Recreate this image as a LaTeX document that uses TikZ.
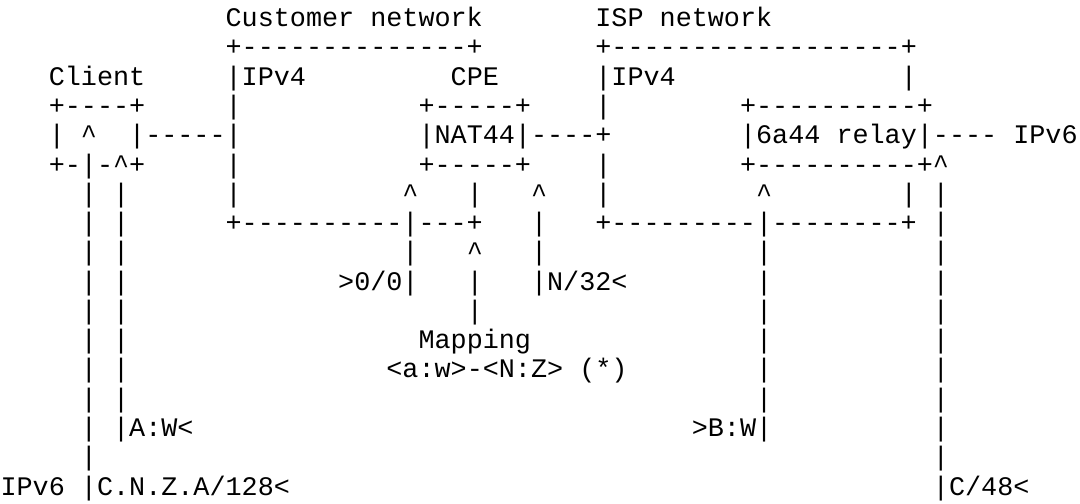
\documentclass[tikz,border=0pt]{standalone}
\usepackage{fontspec}
\setmonofont{Liberation Mono}
\newcommand{\gap}[1]{\hspace*{#1\fontcharwd\font`M}}
\newcommand{\up}{\textasciicircum}

\begin{document}
\begin{tikzpicture}[x=0.3733pt, y=-0.3733pt,
    row/.style={anchor=base west, inner sep=0pt, outer sep=0pt,
      font=\ttfamily\fontsize{10}{12}\selectfont}]
  \fill[white] (0,0) rectangle (1080,504);
  \node[row] (r1) at (0.6,26.7) {\gap{14}Customer network\gap{7}ISP network};
  \node[row] (r2) at (0.6,55.97) {\gap{14}+--------------+\gap{7}+------------------+};
  \node[row] (r3) at (0.6,85.24) {\gap{3}Client\gap{5}|IPv4\gap{9}CPE\gap{6}|IPv4\gap{14}|};
  \node[row] (r4) at (0.6,114.51) {\gap{3}+----+\gap{5}|\gap{11}+-----+\gap{4}|\gap{8}+----------+};
  \node[row] (r5) at (0.6,143.78) {\gap{3}|\gap{1}\up\gap{2}|-----|\gap{11}|NAT44|----+\gap{8}|6a44 relay|---- IPv6};
  \node[row] (r6) at (0.6,173.05) {\gap{3}+-|-\up+\gap{5}|\gap{11}+-----+\gap{4}|\gap{8}+----------+\up};
  \node[row] (r7) at (0.6,202.32) {\gap{5}|\gap{1}|\gap{6}|\gap{10}\up\gap{3}|\gap{3}\up\gap{3}|\gap{9}\up\gap{8}|\gap{1}|};
  \node[row] (r8) at (0.6,231.59) {\gap{5}|\gap{1}|\gap{6}+----------|---+\gap{3}|\gap{3}+---------|--------+\gap{1}|};
  \node[row] (r9) at (0.6,260.86) {\gap{5}|\gap{1}|\gap{17}|\gap{3}\up\gap{3}|\gap{13}|\gap{10}|};
  \node[row] (r10) at (0.6,290.13) {\gap{5}|\gap{1}|\gap{13}>0/0|\gap{3}|\gap{3}|N/32<\gap{8}|\gap{10}|};
  \node[row] (r11) at (0.6,319.4) {\gap{5}|\gap{1}|\gap{21}|\gap{17}|\gap{10}|};
  \node[row] (r12) at (0.6,348.67) {\gap{5}|\gap{1}|\gap{18}Mapping\gap{14}|\gap{10}|};
  \node[row] (r13) at (0.6,377.94) {\gap{5}|\gap{1}|\gap{16}<a:w>-<N:Z> (*)\gap{8}|\gap{10}|};
  \node[row] (r14) at (0.6,407.21) {\gap{5}|\gap{1}|\gap{39}|\gap{10}|};
  \node[row] (r15) at (0.6,436.48) {\gap{5}|\gap{1}|A:W<\gap{31}>B:W|\gap{10}|};
  \node[row] (r16) at (0.6,465.75) {\gap{5}|\gap{52}|};
  \node[row] (r17) at (0.6,495.02) {IPv6 |C.N.Z.A/128<\gap{40}|C/48<};
\end{tikzpicture}
\end{document}
